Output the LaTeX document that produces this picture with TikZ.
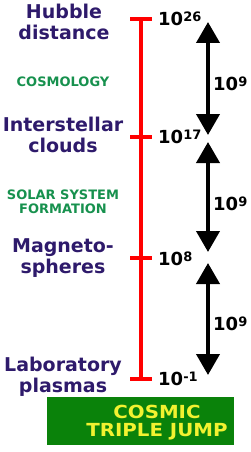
\documentclass[tikz,border=0pt]{standalone}
\usepackage{fontspec}
\setmainfont{DejaVu Sans}
\usetikzlibrary{arrows.meta}
\definecolor{plasmapurple}{HTML}{2E1A6B}
\definecolor{eragreen}{HTML}{17914E}
\definecolor{boxgreen}{HTML}{0A820A}
\definecolor{jumpyellow}{HTML}{F2F230}
\tikzset{
  regime/.style={text=plasmapurple, font=\bfseries\fontsize{19}{21}\selectfont, align=center, anchor=base, inner sep=0pt},
  era/.style={text=eragreen, font=\bfseries\fontsize{13}{14}\selectfont, align=center, anchor=base, inner sep=0pt},
  scale label/.style={font=\bfseries\fontsize{18}{20}\selectfont, anchor=base west, inner sep=0pt},
  jump/.style={line width=4pt, {Triangle[width=23pt,length=21pt]}-{Triangle[width=23pt,length=21pt]}},
}
\newcommand{\pten}[1]{10\raisebox{4pt}{\fontsize{13}{13}\selectfont #1}}
\begin{document}
\begin{tikzpicture}[x=1pt,y=-1pt]
  \useasboundingbox (0,0) rectangle (250,452);
  % red length axis with ticks
  \coordinate (t26) at (141,19);
  \coordinate (t17) at (141,137);
  \coordinate (t8) at (141,258);
  \coordinate (tm1) at (141,379);
  \draw[red, line width=4pt] (t26) -- (tm1);
  \foreach \t in {t26,t17,t8,tm1}
    \draw[red, line width=4pt] ([xshift=-11pt]\t) -- ([xshift=11pt]\t);
  \node[scale label] (l26) at (158,26) {\pten{26}};
  \node[scale label] (l17) at (158,143) {\pten{17}};
  \node[scale label] (l8) at (158,265) {\pten{8}};
  \node[scale label] (lm1) at (158,385) {\pten{-1}};
  % plasma regimes
  \node[regime] (hubble) at (64,40) {Hubble\\distance};
  \node[regime] (clouds) at (63,152) {Interstellar\\clouds};
  \node[regime] (magneto) at (63,273) {Magneto-\\spheres};
  \node[regime] (lab) at (63,392) {Laboratory\\plasmas};
  \node[era] (cosmo) at (63,86) {COSMOLOGY};
  \node[era] (solar) at (63,213) {SOLAR SYSTEM\\FORMATION};
  % the three jumps
  \coordinate (a1) at (208,22);
  \coordinate (b1) at (208,135);
  \coordinate (a2) at (208,142);
  \coordinate (b2) at (208,252);
  \coordinate (a3) at (208,263);
  \coordinate (b3) at (208,375);
  \draw[jump] (a1) -- (b1);
  \draw[jump] (a2) -- (b2);
  \draw[jump] (a3) -- (b3);
  \node[scale label] (j1) at (213,90) {\pten{9}};
  \node[scale label] (j2) at (213,210) {\pten{9}};
  \node[scale label] (j3) at (213,330) {\pten{9}};
  % title box
  \node[fill=boxgreen, minimum width=187pt, minimum height=48pt, inner sep=0pt] (title) at (140.5,421) {};
  \node[text=jumpyellow, font=\bfseries\fontsize{18}{18}\selectfont, align=center] (titletext) at (157,423) {\scalebox{1.1}[1]{COSMIC}\\\scalebox{1.1}[1]{TRIPLE JUMP}};
\end{tikzpicture}
\end{document}
